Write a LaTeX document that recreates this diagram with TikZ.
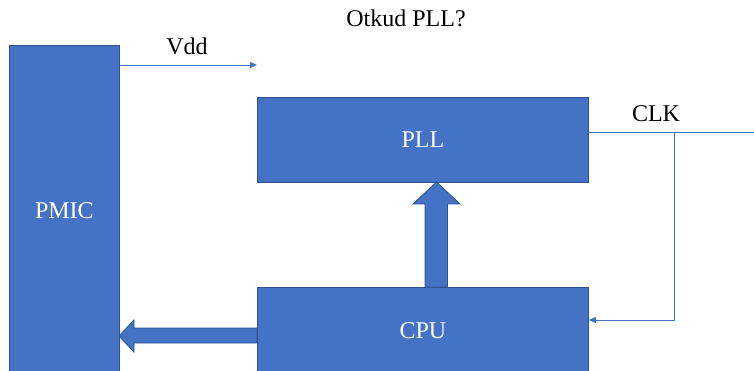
\documentclass[tikz,border=0pt]{standalone}
\usepackage{fontspec}
\setmainfont{Liberation Serif}
\usetikzlibrary{arrows.meta}
\definecolor{blk}{HTML}{4472C4}
\definecolor{bdr}{HTML}{2F528F}
\tikzset{
  blockbox/.style={draw=bdr, fill=blk, line width=0.8pt, inner sep=0pt, anchor=north west, text=white, font=\fontsize{24}{28}\selectfont},
  sig/.style={draw=blk, line width=0.9pt},
  sigarrow/.style={sig, -{Triangle[length=7pt,width=6pt]}},
  fatarrow/.style={draw=bdr, fill=blk, line width=0.8pt, line join=miter},
  lbl/.style={font=\fontsize{24}{28}\selectfont, inner sep=0pt, anchor=base}
}
\begin{document}
\begin{tikzpicture}[x=1pt,y=-1pt]
\useasboundingbox (0,0) rectangle (754,371);
\clip (0,0) rectangle (754,371);
\node[blockbox, minimum width=110pt, minimum height=330pt] (pmic) at (9,45) {PMIC};
\node[blockbox, minimum width=331pt, minimum height=85pt] (pll) at (257,97) {PLL};
\node[blockbox, minimum width=331pt, minimum height=86pt] (cpu) at (257,287) {CPU};
\node[lbl] (title) at (406,27) {Otkud PLL?};
\node[lbl] (vdd) at (187,55) {Vdd};
\node[lbl] (clk) at (656,122) {CLK};
% Vdd
\coordinate (vddend) at (257,65);
\draw[sigarrow] (pmic.east |- vddend) -- (vddend);
% CLK
\coordinate (clkend) at (754,132);
\coordinate (clkturn) at (674,132);
\coordinate (clkbot) at (674,320);
\draw[sig] (pll.east |- clkend) -- (clkend);
\draw[sigarrow] (clkturn) -- (clkbot) -- (cpu.east |- clkbot);
% up fat arrow CPU -> PLL
\draw[fatarrow] (425,287) -- (425,204) -- (413,204) -- (436.5,182) -- (460,204) -- (447.5,204) -- (447.5,287) -- cycle;
% left fat arrow CPU -> PMIC
\draw[fatarrow] (257,328) -- (134,328) -- (134,320) -- (119,336) -- (134,352) -- (134,343) -- (257,343) -- cycle;
\end{tikzpicture}
\end{document}
